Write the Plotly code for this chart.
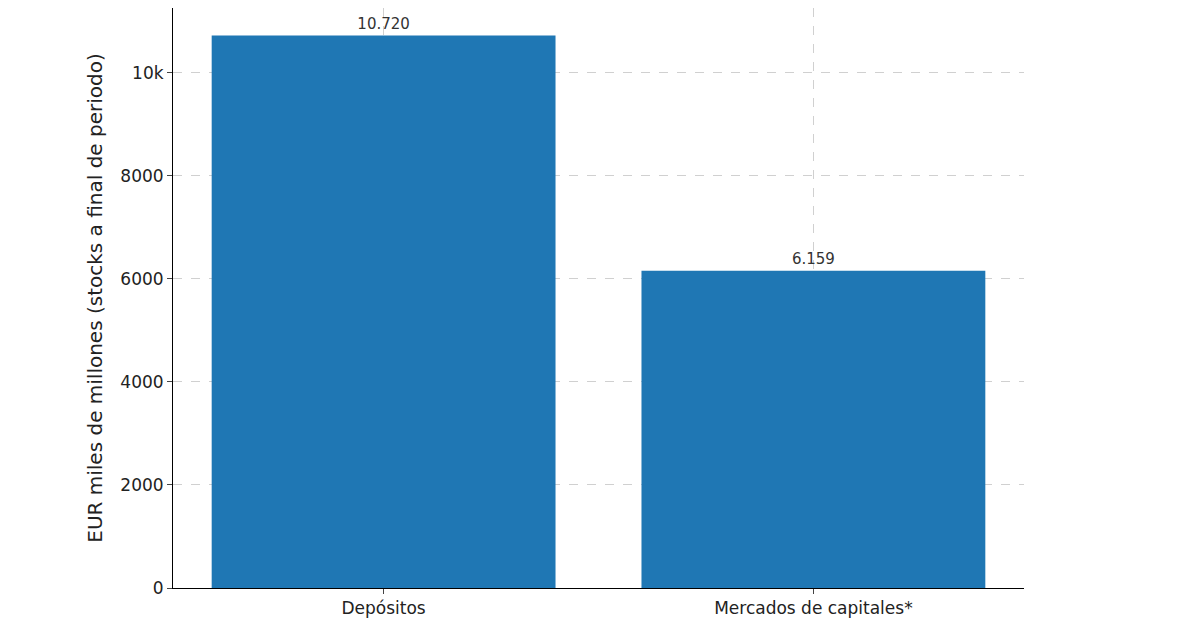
import plotly.graph_objects as go

categories = ["Depósitos", "Mercados de capitales*"]
values = [10720, 6159]
labels = ["10.720", "6.159"]

fig = go.Figure(go.Bar(
    x=[0, 1], y=values, width=0.8, marker_color="#1f77b4", marker_line_width=0,
    text=labels, textposition="outside", cliponaxis=False,
    textfont=dict(size=15, color="#333"),
))
fig.update_layout(
    width=1181, height=620, margin=dict(l=165, r=165, t=0, b=40),
    plot_bgcolor="white", paper_bgcolor="white",
    font=dict(family="DejaVu Sans", size=17, color="#222"),
    showlegend=False,
)
fig.update_xaxes(range=[-0.49, 1.49], tickvals=[0, 1], ticktext=categories,
                 showgrid=True, gridcolor="#d0d0d0", griddash="dash",
                 showline=True, linecolor="black", ticks="outside", ticklen=5, zeroline=False)
fig.update_yaxes(range=[0, 11256], tickvals=[0, 2000, 4000, 6000, 8000, 10000],
                 showgrid=True, gridcolor="#d0d0d0", griddash="dash",
                 showline=True, linecolor="black", ticks="outside", ticklen=5, zeroline=False,
                 title=dict(text="EUR miles de millones (stocks a final de periodo)", standoff=12))
fig.write_html("out.html")
